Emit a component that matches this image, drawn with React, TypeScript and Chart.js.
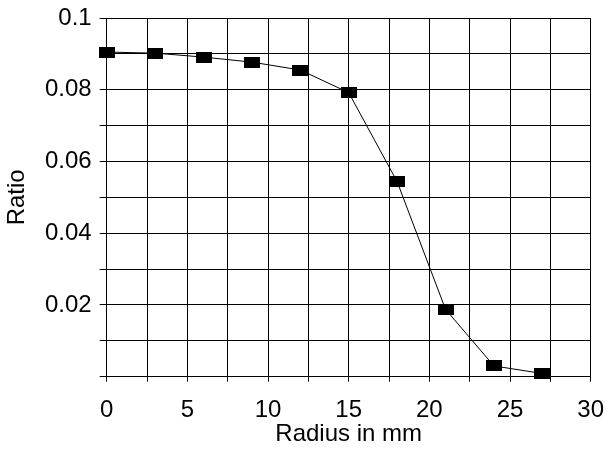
import React, { useEffect, useRef } from 'react';
import { Chart, registerables } from 'chart.js';

Chart.register(...registerables);

const radius = [0, 3, 6, 9, 12, 15, 18, 21, 24, 27];
const ratio = [0.0905, 0.0902, 0.0891, 0.0877, 0.0855, 0.0792, 0.0544, 0.0188, 0.003, 0.0009];
const xTickLabels = ['0', '5', '10', '15', '20', '25', '30'];
const yTickLabels = ['0.02', '0.04', '0.06', '0.08', '0.1'];
const xTitle = 'Radius in mm';
const yTitle = 'Ratio';

const FONT = "'Liberation Sans', Arial, Helvetica, sans-serif";

function makeMarker(): HTMLCanvasElement {
  const c = document.createElement('canvas');
  c.width = 16;
  c.height = 11;
  const ctx = c.getContext('2d')!;
  ctx.fillStyle = '#000';
  ctx.fillRect(0, 0, 16, 11);
  return c;
}

export default function App() {
  const ref = useRef<HTMLCanvasElement | null>(null);

  useEffect(() => {
    if (!ref.current) return;
    const marker = makeMarker();
    const chart = new Chart(ref.current, {
      type: 'line',
      data: {
        datasets: [
          {
            data: radius.map((r, i) => ({ x: r, y: ratio[i] })),
            borderColor: '#000',
            borderWidth: 1,
            pointStyle: marker,
            pointRadius: 8,
            tension: 0,
            clip: false,
          } as any,
        ],
      },
      options: {
        animation: false,
        responsive: false,
        layout: { padding: { top: 18, right: 15.3, left: 0, bottom: 0 } },
        plugins: { legend: { display: false }, tooltip: { enabled: false } },
        scales: {
          x: {
            type: 'linear',
            min: 0,
            max: 30,
            ticks: {
              stepSize: 2.5,
              autoSkip: false,
              maxRotation: 0,
              padding: 14.5,
              color: '#000',
              font: { family: FONT, size: 24 },
              callback: (v: any) => {
                const n = Number(v);
                return n % 5 === 0 && xTickLabels.includes(String(n)) ? String(n) : '';
              },
            },
            grid: { color: '#000', lineWidth: 1, tickLength: 5, drawTicks: true },
            border: { display: true, color: '#000' },
            title: {
              display: true,
              text: xTitle,
              color: '#000',
              font: { family: FONT, size: 24 },
              padding: { top: 0, bottom: 0 },
            },
            afterFit: (s: any) => {
              s.height = 72.3;
              s.paddingLeft = 0;
              s.paddingRight = 0;
            },
          },
          y: {
            type: 'linear',
            min: 0,
            max: 0.1,
            ticks: {
              stepSize: 0.01,
              autoSkip: false,
              padding: 8,
              color: '#000',
              font: { family: FONT, size: 24 },
              callback: (v: any) => {
                const k = Math.round(Number(v) * 100);
                if (k <= 0 || k % 2 !== 0) return '';
                const s = String(k / 100);
                return yTickLabels.includes(s) ? s : '';
              },
            },
            grid: { color: '#000', lineWidth: 1, tickLength: 7, drawTicks: true },
            border: { display: true, color: '#000' },
            title: {
              display: true,
              text: yTitle,
              color: '#000',
              font: { family: FONT, size: 24 },
              padding: { top: 2.6, bottom: 0 },
            },
            afterFit: (s: any) => {
              s.width = 106.7;
              s.paddingTop = 0;
              s.paddingBottom = 0;
            },
          },
        },
      },
    });
    return () => chart.destroy();
  }, []);

  return (
    <div style={{ position: 'absolute', left: 0, top: 0, width: 606, height: 449, background: '#fff' }}>
      <canvas ref={ref} width={606} height={449} style={{ display: 'block', width: 606, height: 449 }} />
    </div>
  );
}
